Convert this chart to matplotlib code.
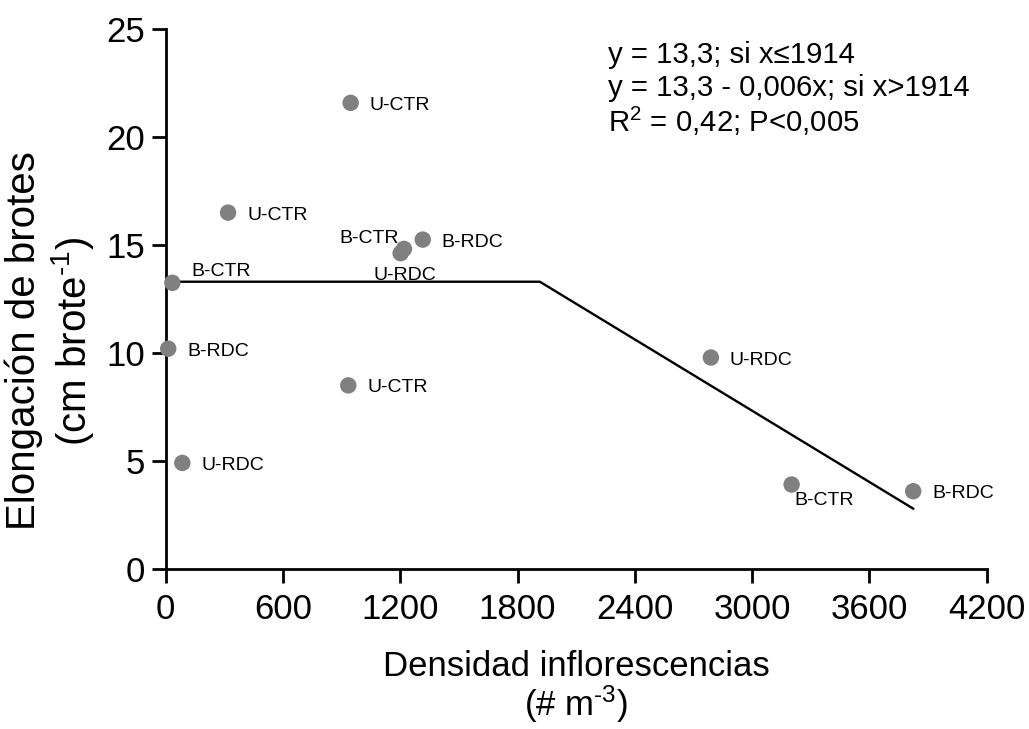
import matplotlib
matplotlib.use('Agg')
import matplotlib.pyplot as plt
import numpy as np

plt.rcParams['font.family'] = ['Liberation Sans', 'DejaVu Sans']
plt.rcParams['mathtext.fontset'] = 'custom'
plt.rcParams['mathtext.rm'] = 'Liberation Sans'
plt.rcParams['mathtext.it'] = 'Liberation Sans:italic'
plt.rcParams['mathtext.bf'] = 'Liberation Sans:bold'

# ---- data ----
labels = ['U-CTR', 'U-CTR', 'B-CTR', 'B-RDC', 'U-RDC', 'U-CTR',
          'B-CTR', 'U-RDC', 'B-RDC', 'U-RDC', 'B-CTR', 'B-RDC']
densidad = [946, 319, 34, 13, 85, 934, 1219, 1202, 1315, 2789, 3202, 3824]
elongacion = [21.58, 16.5, 13.25, 10.2, 4.91, 8.5, 14.82, 14.62, 15.25, 9.79, 3.91, 3.6]

plateau = 13.3
breakpoint_x = 1914
slope = -0.0055

x_ticks = [0, 600, 1200, 1800, 2400, 3000, 3600, 4200]
y_ticks = [0, 5, 10, 15, 20, 25]

# label placement (pixel offsets from point centre, alignment)
label_style = [(19, 0, 'left')] * len(labels)
label_style = list(label_style)
label_style[2] = (19, 14, 'left')
label_style[6] = (-5, 13, 'right')
label_style[7] = (4, -20, 'center')
label_style[10] = (3, -13, 'left')

W, H = 1029, 729
fig = plt.figure(figsize=(W / 100, H / 100), dpi=100)
ax = fig.add_axes([165.7 / W, 1 - 569 / H, (986.7 - 165.7) / W, (569 - 29) / H])

ax.set_xlim(0, 4200)
ax.set_ylim(0, 25)

# segmented regression line
xs = np.array([min(densidad), breakpoint_x, max(densidad)], dtype=float)
ys = np.where(xs <= breakpoint_x, plateau, plateau + slope * (xs - breakpoint_x))
ax.plot(xs, ys, color='black', lw=1.7, zorder=2, clip_on=False)

ax.scatter(densidad, elongacion, s=140, color='#808080', edgecolors='none',
           zorder=3, clip_on=False)

for lab, x, y, (dx, dy, ha) in zip(labels, densidad, elongacion, label_style):
    ax.annotate(lab, (x, y), xytext=(dx, dy - 7), textcoords='offset pixels',
                ha=ha, va='baseline', fontsize=14, color='black', zorder=4,
                annotation_clip=False)

for s in ['top', 'right']:
    ax.spines[s].set_visible(False)
for s in ['left', 'bottom']:
    ax.spines[s].set_linewidth(2)
ax.set_xticks(x_ticks)
ax.set_yticks(y_ticks)
ax.tick_params(axis='both', direction='out', length=10, width=2, labelsize=25)
ax.tick_params(axis='y', pad=5)
ax.tick_params(axis='x', pad=7)

# equation text
eq_x = 608 / W
fig.text(eq_x, 1 - 62.7 / H, 'y = 13,3; si x\u22641914', fontsize=21.2, va='baseline', ha='left')
fig.text(eq_x, 1 - 96 / H, 'y = 13,3 - 0,006x; si x>1914', fontsize=21.2, va='baseline', ha='left')
fig.text(eq_x, 1 - 132 / H, 'R$^2$ = 0,42; P<0,005', fontsize=21.2, va='baseline', ha='left')

# axis labels
cx = (165.7 + 986.7) / 2 / W
fig.text(cx, 1 - 676 / H, 'Densidad inflorescencias', fontsize=25, ha='center', va='baseline')
fig.text(cx, 1 - 716 / H, '(# m$^{\\text{-}3}$)', fontsize=25, ha='center', va='baseline')

cy = 1 - 341 / H
fig.text(35 / W, cy, 'Elongación de brotes', fontsize=29, rotation=90,
         rotation_mode='anchor', ha='center', va='baseline')
fig.text(86 / W, cy, '(cm brote$^{\\text{-}1}$)', fontsize=29, rotation=90,
         rotation_mode='anchor', ha='center', va='baseline')

fig.savefig('out.png', dpi=100)
